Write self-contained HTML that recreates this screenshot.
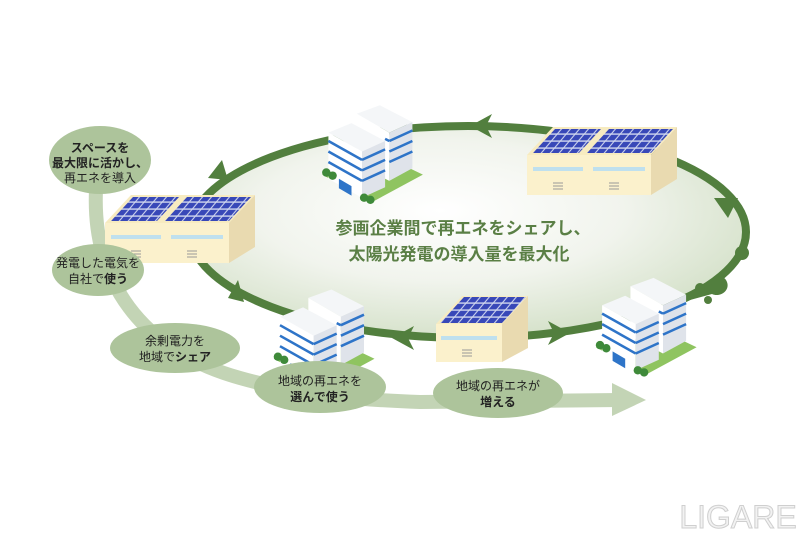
<!DOCTYPE html>
<html><head><meta charset="utf-8"><style>
html,body{margin:0;padding:0;background:#fff;}
svg{display:block;}
.t{font-family:"Liberation Sans","Noto Sans CJK JP",sans-serif;}
</style></head><body>
<svg width="800" height="533" viewBox="0 0 800 533" xmlns="http://www.w3.org/2000/svg" class="t">
<defs>
<radialGradient id="fill" cx="0.45" cy="0.4" r="0.6">
<stop offset="0" stop-color="#ffffff"/><stop offset="0.55" stop-color="#f1f4ed"/><stop offset="1" stop-color="#d6e2cb"/>
</radialGradient>
<pattern id="pv" width="9" height="7" patternUnits="userSpaceOnUse" patternTransform="skewX(-40)">
<rect width="9" height="7" fill="#cfd6ee"/><rect x="0.8" y="0.8" width="7.6" height="5.6" fill="#3848b8"/>
</pattern>
<g id="office">
<polygon points="2,66 50,92 98,66 52,44" fill="#8fc460"/>
<polygon points="35,8 57,0 88,16 66,26" fill="#f4f6f8"/>
<polygon points="35,8 66,26 66,72 35,56" fill="#ffffff"/>
<polygon points="66,26 88,16 88,60 66,72" fill="#dfe3ea"/>
<polygon points="8,26 30,17 62,34 40,44" fill="#f4f6f8"/>
<polygon points="8,26 40,44 40,88 8,70" fill="#ffffff"/>
<polygon points="40,44 62,34 62,78 40,88" fill="#dfe3ea"/>
<g stroke="#2e74c8" stroke-width="2.4">
<line x1="8" y1="34" x2="40" y2="52"/><line x1="8" y1="44" x2="40" y2="62"/><line x1="8" y1="54" x2="40" y2="72"/>
<line x1="40" y1="52" x2="62" y2="42"/><line x1="40" y1="62" x2="62" y2="52"/><line x1="40" y1="72" x2="62" y2="62"/>
<line x1="62" y1="32" x2="66" y2="34"/><line x1="66" y1="34" x2="88" y2="24"/><line x1="66" y1="44" x2="88" y2="34"/><line x1="66" y1="54" x2="88" y2="44"/>
</g>
<polygon points="18,70 30,77 30,86 18,79" fill="#2e74c8"/>
<circle cx="6" cy="64" r="4" fill="#3f8a3a"/><circle cx="12" cy="67" r="4" fill="#3f8a3a"/>
<circle cx="42" cy="88" r="4" fill="#3f8a3a"/><circle cx="48" cy="90" r="4" fill="#3f8a3a"/>
</g>
<g id="fac2">
<polygon points="0,28 26,0 150,0 124,28" fill="#f7ebc0"/>
<polygon points="6,26 28,2 74,2 52,26" fill="url(#pv)"/>
<polygon points="60,26 82,2 146,2 124,26" fill="url(#pv)"/>
<rect x="0" y="28" width="124" height="40" fill="#fbf1cc"/>
<polygon points="124,28 150,0 150,52 124,68" fill="#e9dab0"/>
<rect x="6" y="40" width="50" height="4" fill="#bfe0ee"/><rect x="66" y="40" width="52" height="4" fill="#bfe0ee"/>
<g stroke="#999" stroke-width="1"><line x1="26" y1="56" x2="36" y2="56"/><line x1="26" y1="59" x2="36" y2="59"/><line x1="26" y1="62" x2="36" y2="62"/>
<line x1="82" y1="56" x2="92" y2="56"/><line x1="82" y1="59" x2="92" y2="59"/><line x1="82" y1="62" x2="92" y2="62"/></g>
</g>
</defs>
<rect width="800" height="533" fill="#fff"/>
<path d="M96,190 C92,280 140,350 240,378 C300,395 360,400 420,402 L620,400" fill="none" stroke="#c3d4b5" stroke-width="14"/>
<polygon points="612,383 646,400 612,416" fill="#c3d4b5"/>
<ellipse cx="468" cy="232" rx="278" ry="106" fill="url(#fill)" stroke="#527f3e" stroke-width="8"/>
<g fill="#527f3e">
<polygon points="470,126 492,114 486,126 492,138"/>
<polygon points="228,180 208,178 222,160"/>
<polygon points="228,298 238,280 244,302"/>
<polygon points="392,338 414,326 408,338 414,350"/>
<polygon points="570,333 548,321 554,333 548,345"/>
<polygon points="728,218 714,198 738,198"/>
<circle cx="742" cy="253" r="7"/>
<path d="M690,300 L712,284 C714,276 722,274 726,280 C732,290 720,298 712,294 Z"/>
<circle cx="700" cy="288" r="5"/><circle cx="708" cy="300" r="4"/>
</g>
<use href="#office" x="320" y="106" transform="translate(-16,-6) scale(1.05)"/>
<use href="#fac2" x="527" y="127"/>
<use href="#fac2" x="105" y="195"/>
<use href="#office" x="272" y="290" transform="translate(-14,-15) scale(1.05)"/>
<g transform="translate(436,296)">
<polygon points="0,28 26,0 92,0 66,28" fill="#f7ebc0"/>
<polygon points="4,27 28,1 90,1 66,27" fill="url(#pv)"/>
<rect x="0" y="28" width="66" height="38" fill="#fbf1cc"/>
<polygon points="66,28 92,0 92,52 66,66" fill="#e9dab0"/>
<rect x="5" y="40" width="56" height="4" fill="#bfe0ee"/>
<g stroke="#999"><line x1="26" y1="54" x2="36" y2="54"/><line x1="26" y1="57" x2="36" y2="57"/><line x1="26" y1="60" x2="36" y2="60"/></g>
</g>
<use href="#office" x="594" y="278" transform="translate(-30,-14) scale(1.05)"/>
<g fill="#5a7f45" font-weight="bold" font-size="17" text-anchor="middle">
<text x="463" y="234">参画企業間で再エネをシェアし、</text>
<text x="459" y="260">太陽光発電の導入量を最大化</text>
</g>
<g fill="#adc49b">
<ellipse cx="100" cy="160" rx="51" ry="34"/>
<ellipse cx="98" cy="270" rx="46" ry="26"/>
<ellipse cx="175" cy="348" rx="65" ry="25"/>
<ellipse cx="320" cy="387" rx="66" ry="26"/>
<ellipse cx="498" cy="393" rx="65" ry="25"/>
</g>
<g font-size="12" text-anchor="middle" fill="#222">
<text x="100" y="152" font-weight="bold">スペースを</text>
<text x="100" y="167" font-weight="bold">最大限に活かし、</text>
<text x="100" y="182">再エネを導入</text>
<text x="98" y="267">発電した電気を</text>
<text x="98" y="283">自社で<tspan font-weight="bold">使う</tspan></text>
<text x="175" y="345">余剰電力を</text>
<text x="175" y="361">地域で<tspan font-weight="bold">シェア</tspan></text>
<text x="320" y="385">地域の再エネを</text>
<text x="320" y="401" font-weight="bold">選んで使う</text>
<text x="498" y="390">地域の再エネが</text>
<text x="498" y="406" font-weight="bold">増える</text>
</g>
<text x="738" y="528" font-size="32" text-anchor="middle" fill="#f2f2f2" stroke="#cfcfcf" stroke-width="1">LIGARE</text>
</svg>
</body></html>
